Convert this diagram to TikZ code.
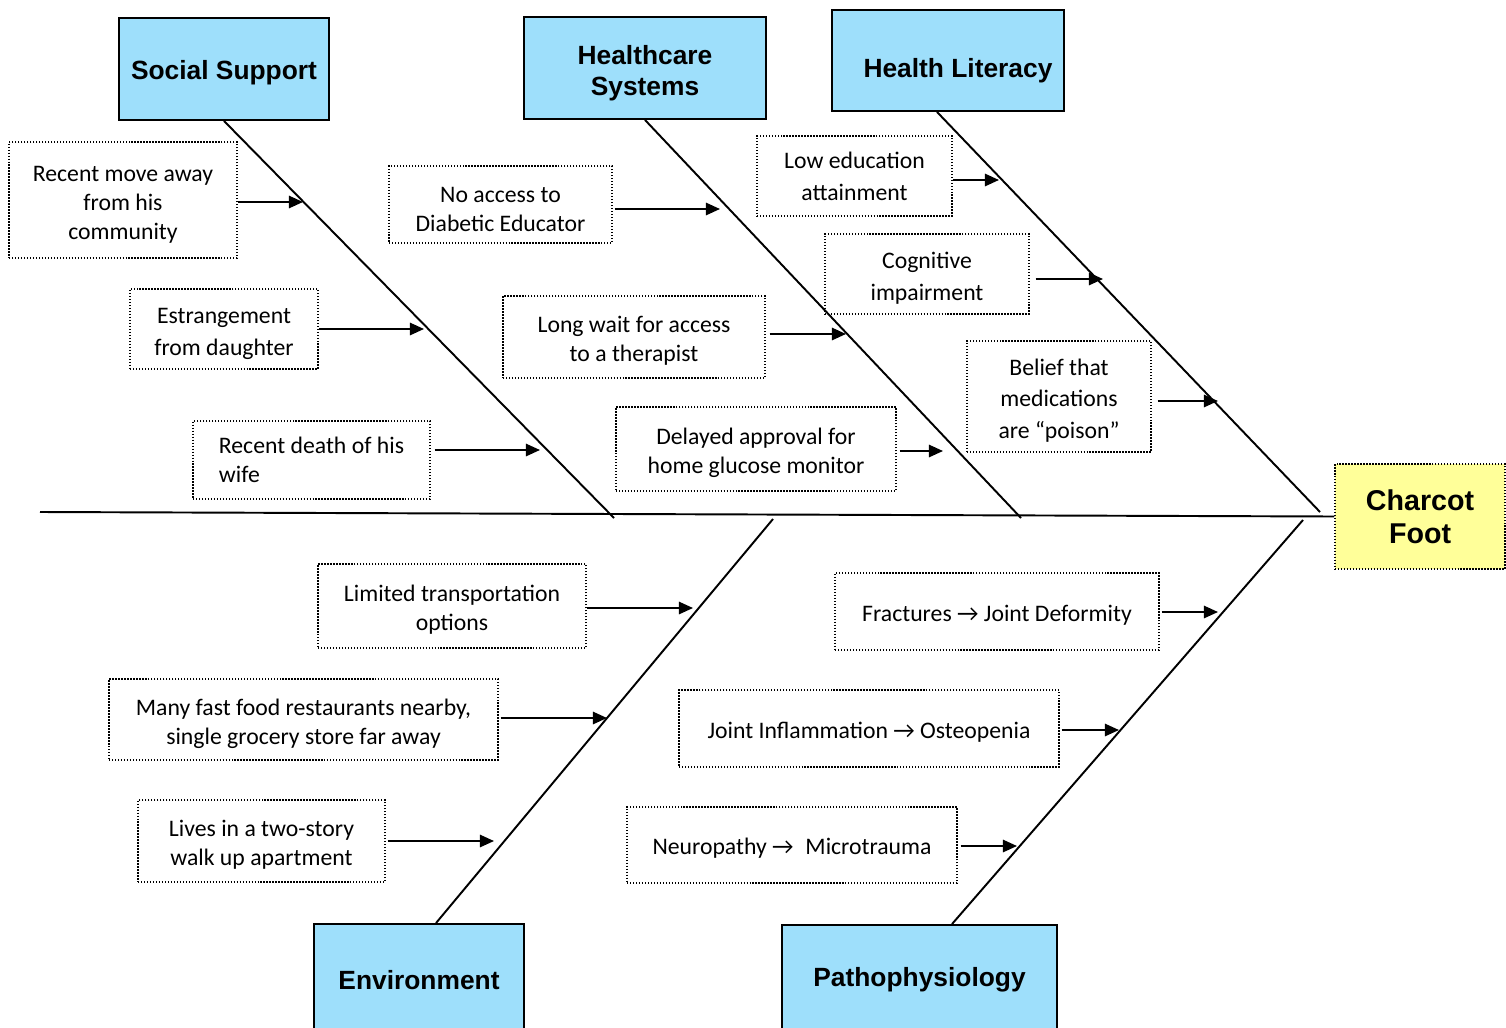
\documentclass[tikz,border=0pt]{standalone}
\usepackage{fontspec}
\setmainfont{Carlito}
\newfontfamily\hfont{Liberation Sans}
\usetikzlibrary{positioning,arrows.meta,calc}
\definecolor{hblue}{RGB}{158,223,251}
\definecolor{fyellow}{RGB}{255,255,153}
\tikzstyle{hbox}=[rectangle, draw=black, fill=hblue, line width=1.1pt,
                  inner sep=2pt, align=center,
                  execute at begin node={\rule{0pt}{14.5pt}},
                  font=\hfont\bfseries\fontsize{15pt}{17.6pt}\selectfont]
\tikzstyle{ybox}=[rectangle, draw=black, fill=fyellow, line width=0.9pt,
                  dash pattern=on 0.8pt off 0.9pt, inner sep=2pt, align=center,
                  font=\hfont\bfseries\fontsize{16.3pt}{18.7pt}\selectfont]
\tikzstyle{cbox}=[rectangle, draw=black, line width=0.8pt,
                  dash pattern=on 0.8pt off 0.9pt, inner sep=2pt, align=center,
                  font=\fontsize{13.5pt}{16.4pt}\selectfont]
\tikzstyle{cboxw}=[cbox, font=\fontsize{13.5pt}{18.1pt}\selectfont]
\tikzstyle{pline}=[-, line width=1.1pt]
\tikzstyle{parrow}=[-{Triangle[length=8pt,width=7pt]}, line width=1.1pt]
\newcommand{\up}{\rule{0pt}{14pt}}
\newcommand{\upone}{\rule{0pt}{13pt}}

\begin{document}
\begin{tikzpicture}[x=0.02cm,y=-0.02cm]
\useasboundingbox (0,0) rectangle (1506,1027);

% heads
\node (SOC) [hbox, minimum width=4.2cm, minimum height=2.04cm] at (224,69) {Social Support};
\node (HS) [hbox, minimum width=4.84cm, minimum height=2.04cm] at (645,68) {\rule{0pt}{17pt}Healthcare\\Systems};
\node (LIT) [hbox, minimum width=4.64cm, minimum height=2.02cm] at (948,60.5) {\rule{0pt}{22pt}\hspace{0.4cm}Health Literacy};
\node (ENV) [hbox, minimum width=4.2cm, minimum height=2.1cm] at (419,976.5) {Environment};
\node (PATH) [hbox, minimum width=5.5cm, minimum height=2.08cm] at (919.5,977) {Pathophysiology};
\node (CHARCOT) [ybox, minimum width=3.4cm, minimum height=2.1cm] at (1420,516.5) {Charcot\\Foot};

% spine and bones
\coordinate (SPINE) at (40,512);
\coordinate (SOCEND) at (614,518);
\coordinate (HSEND) at (1021,518);
\coordinate (LITEND) at (1320,512);
\coordinate (ENVEND) at (773,519);
\coordinate (PATHEND) at (1303,520);
 \draw[pline] (SPINE) -- (CHARCOT.west);
 \draw[pline] (SOC.south) -- (SOCEND);
 \draw[pline] (HS.south) -- (HSEND);
 \draw[pline] ([xshift=-0.22cm]LIT.south) -- (LITEND);
 \draw[pline] ([xshift=0.34cm]ENV.north) -- (ENVEND);
 \draw[pline] ([xshift=0.65cm]PATH.north) -- (PATHEND);

% social support
\node (SOCMOVE) [cbox, minimum width=4.56cm, minimum height=2.32cm] at (123,200) {\up Recent move away\\from his\\community};
\coordinate (SOCMOVEA) at (303,202);
 \draw[parrow] (SOCMOVE.east |- SOCMOVEA) -- (SOCMOVEA);
\node (SOCDAUG) [cboxw, minimum width=3.76cm, minimum height=1.6cm] at (224,329) {\up Estrangement\\from daughter};
\coordinate (SOCDAUGA) at (424,329);
 \draw[parrow] (SOCDAUG.east |- SOCDAUGA) -- (SOCDAUGA);
\node (SOCWIFE) [cbox, align=left, minimum width=4.74cm, minimum height=1.56cm] at (311.5,460) {Recent death of his\\wife\hspace{0.2cm}};
\coordinate (SOCWIFEA) at (540,450);
 \draw[parrow] ([xshift=0.08cm]SOCWIFE.east |- SOCWIFEA) -- (SOCWIFEA);

% healthcare systems
\node (HSEDUC) [cbox, minimum width=4.46cm, minimum height=1.54cm] at (500.5,204.5) {\up No access to\\Diabetic Educator};
\coordinate (HSEDUCA) at (720,209);
 \draw[parrow] ([xshift=0.04cm]HSEDUC.east |- HSEDUCA) -- (HSEDUCA);
\node (HSTHER) [cbox, minimum width=5.24cm, minimum height=1.64cm] at (634,337) {\up Long wait for access\\to a therapist};
\coordinate (HSTHERA) at (846,334);
 \draw[parrow] ([xshift=0.08cm]HSTHER.east |- HSTHERA) -- (HSTHERA);
\node (HSGLUC) [cbox, minimum width=5.6cm, minimum height=1.68cm] at (756,449) {\up Delayed approval for\\home glucose monitor};
\coordinate (HSGLUCA) at (943,451);
 \draw[parrow] ([xshift=0.06cm]HSGLUC.east |- HSGLUCA) -- (HSGLUCA);

% health literacy
\node (LITEDUC) [cboxw, minimum width=3.9cm, minimum height=1.6cm] at (854.5,176) {Low education\\attainment};
\coordinate (LITEDUCA) at (999,180);
 \draw[parrow] (LITEDUC.east |- LITEDUCA) -- (LITEDUCA);
\node (LITCOG) [cboxw, minimum width=4.08cm, minimum height=1.6cm] at (927,274) {\up Cognitive\\impairment};
\coordinate (LITCOGA) at (1103,279);
 \draw[parrow] ([xshift=0.12cm]LITCOG.east |- LITCOGA) -- (LITCOGA);
\node (LITPOIS) [cboxw, minimum width=3.68cm, minimum height=2.22cm] at (1059,396.5) {\up Belief that\\medications\\are “poison”};
\coordinate (LITPOISA) at (1218,401);
 \draw[parrow] ([xshift=0.12cm]LITPOIS.east |- LITPOISA) -- (LITPOISA);

% environment
\node (ENVTRANS) [cbox, minimum width=5.36cm, minimum height=1.68cm] at (452,606) {\up Limited transportation\\options};
\coordinate (ENVTRANSA) at (693,608);
 \draw[parrow] (ENVTRANS.east |- ENVTRANSA) -- (ENVTRANSA);
\node (ENVFOOD) [cbox, minimum width=7.78cm, minimum height=1.62cm] at (303.5,719.5) {\up Many fast food restaurants nearby,\\single grocery store far away};
\coordinate (ENVFOODA) at (607,718);
 \draw[parrow] ([xshift=0.04cm]ENVFOOD.east |- ENVFOODA) -- (ENVFOODA);
\node (ENVAPT) [cbox, minimum width=4.94cm, minimum height=1.64cm] at (261.5,841) {\up Lives in a two-story\\walk up apartment};
\coordinate (ENVAPTA) at (494,841);
 \draw[parrow] ([xshift=0.04cm]ENVAPT.east |- ENVAPTA) -- (ENVAPTA);

% pathophysiology
\node (PATHFRAC) [cbox, minimum width=6.48cm, minimum height=1.54cm] at (997,611.5) {\upone Fractures → Joint Deformity};
\coordinate (PATHFRACA) at (1218,612);
 \draw[parrow] ([xshift=0.04cm]PATHFRAC.east |- PATHFRACA) -- (PATHFRACA);
\node (PATHINFL) [cbox, minimum width=7.6cm, minimum height=1.54cm] at (869,728.5) {\upone Joint Inflammation → Osteopenia};
\coordinate (PATHINFLA) at (1119,730);
 \draw[parrow] ([xshift=0.04cm]PATHINFL.east |- PATHINFLA) -- (PATHINFLA);
\node (PATHNEUR) [cbox, minimum width=6.6cm, minimum height=1.52cm] at (792,845) {\upone Neuropathy →\enspace Microtrauma};
\coordinate (PATHNEURA) at (1017,846);
 \draw[parrow] ([xshift=0.06cm]PATHNEUR.east |- PATHNEURA) -- (PATHNEURA);

\end{tikzpicture}
\end{document}
